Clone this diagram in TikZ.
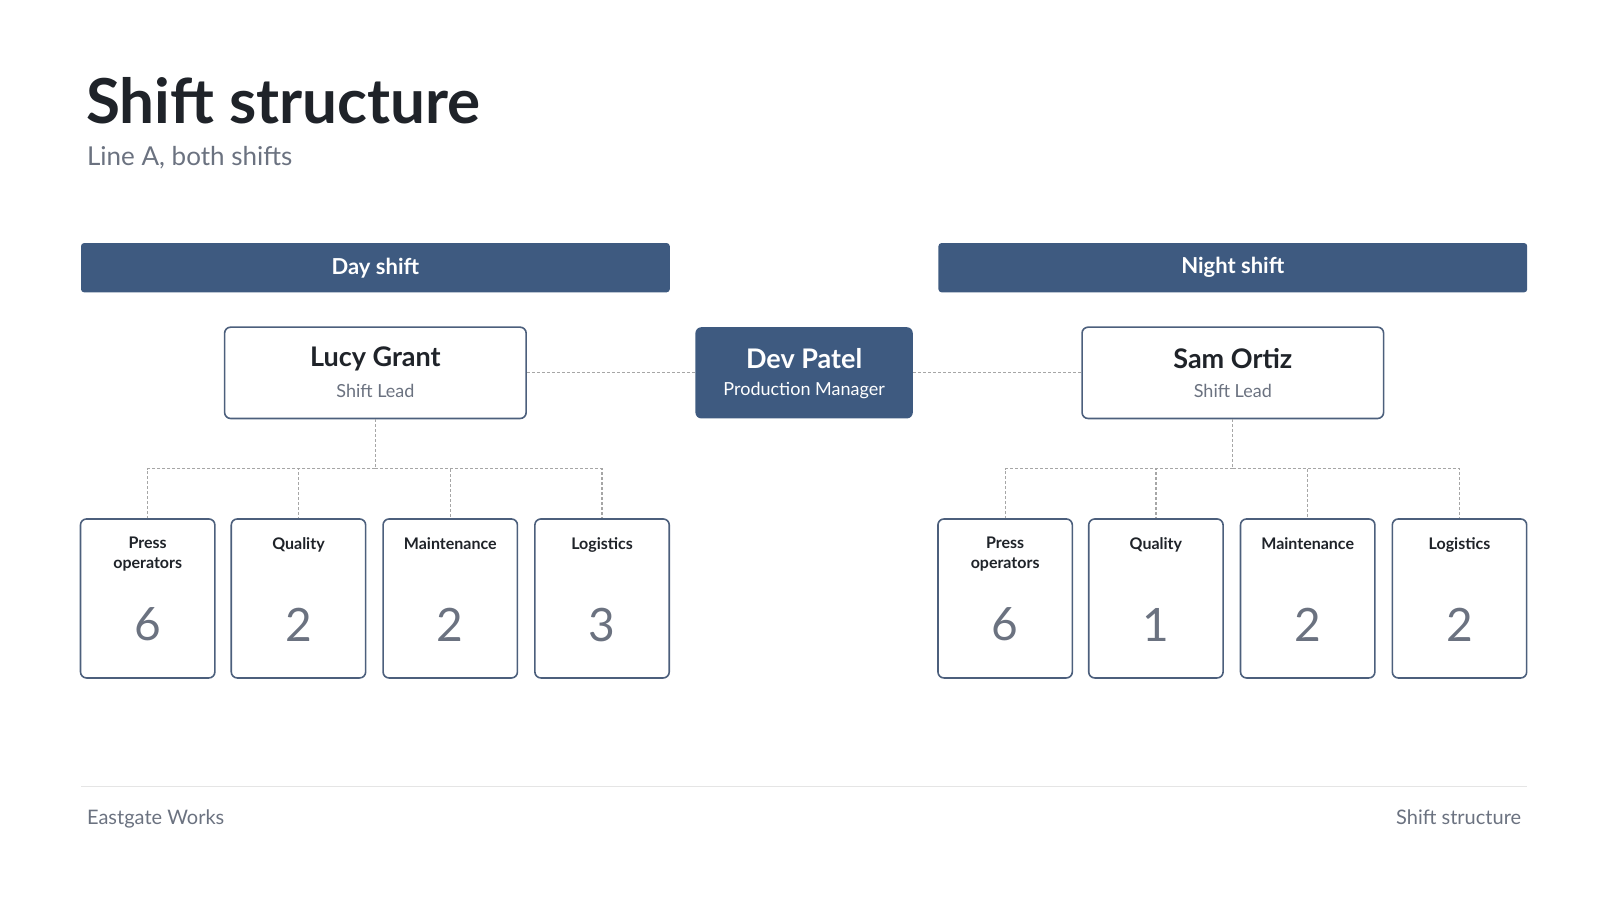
\documentclass[tikz,border=0pt]{standalone}
\usepackage{fontspec}
\setmainfont{Lato}
\begin{document}
\definecolor{navy}{HTML}{3E5A80}
\definecolor{edge}{HTML}{4C5F7C}
\definecolor{txt}{HTML}{1F2329}
\definecolor{mut}{HTML}{6B7280}
\begin{tikzpicture}[x=0.5128pt,y=-0.5128pt,
 bar/.style={fill=navy,rounded corners=1.5pt,minimum width=574*0.5128pt,minimum height=48*0.5128pt,text=white,font=\fontsize{11}{13}\selectfont\bfseries,inner sep=0},
 lead/.style={draw=edge,line width=0.8pt,fill=white,rounded corners=3pt,minimum width=294*0.5128pt,minimum height=89*0.5128pt,inner sep=0},
 team/.style={draw=edge,line width=0.8pt,fill=white,rounded corners=3pt,minimum width=131*0.5128pt,minimum height=155*0.5128pt,inner sep=0},
 conn/.style={draw=gray!70,line width=0.6pt,dash pattern=on 1.5pt off 1pt},
 lbl/.style={font=\fontsize{8}{10}\selectfont\bfseries,text=txt,align=center,anchor=north},
 num/.style={font=\fontsize{23}{26}\selectfont,text=mut}]
\useasboundingbox (0,0) rectangle (1560,877.5);
\node[anchor=base west,font=\fontsize{31}{36}\selectfont\bfseries,text=txt] (title) at (77,120) {Shift structure};
\node[anchor=base west,font=\fontsize{13}{15}\selectfont,text=mut] (sub) at (78,161) {Line A, both shifts};
\node[bar] (day) at (366,261) {Day shift};
\node[bar] (night) at (1202,261) {Night shift};
% leads
\node[lead] (lucy) at (366,363.5) {};
\node[font=\fontsize{13.5}{16}\selectfont\bfseries,text=txt] (lucyn) at (366,350) {Lucy Grant};
\node[font=\fontsize{9}{11}\selectfont,text=mut] (lucyr) at (366,381) {Shift Lead};
\node[lead] (sam) at (1202,363.5) {};
\node[font=\fontsize{13.5}{16}\selectfont\bfseries,text=txt] (samn) at (1202,350) {Sam Ortiz};
\node[font=\fontsize{9}{11}\selectfont,text=mut] (samr) at (1202,381) {Shift Lead};
\node[fill=navy,rounded corners=3pt,minimum width=212*0.5128pt,minimum height=89*0.5128pt,inner sep=0] (dev) at (784,363.5) {};
\node[font=\fontsize{13.5}{16}\selectfont\bfseries,text=white] (devn) at (784,350) {Dev Patel};
\node[font=\fontsize{9}{11}\selectfont,text=white] (devr) at (784,381) {Production Manager};
\draw[conn] (lucy.east) -- (dev.west);
\draw[conn] (dev.east) -- (sam.west);
% teams
\foreach \n/\x/\t/\v in {d1/144/{Press\\operators}/6,d2/291/Quality/2,d3/439/Maintenance/2,d4/587/Logistics/3,
  n1/980/{Press\\operators}/6,n2/1127/Quality/1,n3/1275/Maintenance/2,n4/1423/Logistics/2}{
  \node[team] (\n) at (\x,583.5) {};
  \node[lbl] (\n l) at (\x,517) {\t};
  \node[num] (\n v) at (\x,609) {\v};
}
\coordinate (bd) at (366,457);
\coordinate (bn) at (1202,457);
\draw[conn] (lucy.south) -- (bd);
\draw[conn] (sam.south) -- (bn);
\foreach \n in {d1,d2,d3,d4}{\draw[conn] (bd) -| (\n.north);}
\foreach \n in {n1,n2,n3,n4}{\draw[conn] (bn) -| (\n.north);}
% footer
\coordinate (fl) at (79,767);
\coordinate (fr) at (1489,767);
\draw[gray!20,line width=0.5pt] (fl) -- (fr);
\node[anchor=base west,font=\fontsize{10}{12}\selectfont,text=mut] (fa) at (78,804) {Eastgate Works};
\node[anchor=base east,font=\fontsize{10}{12}\selectfont,text=mut] (fb) at (1490,804) {Shift structure};
\end{tikzpicture}
\end{document}
